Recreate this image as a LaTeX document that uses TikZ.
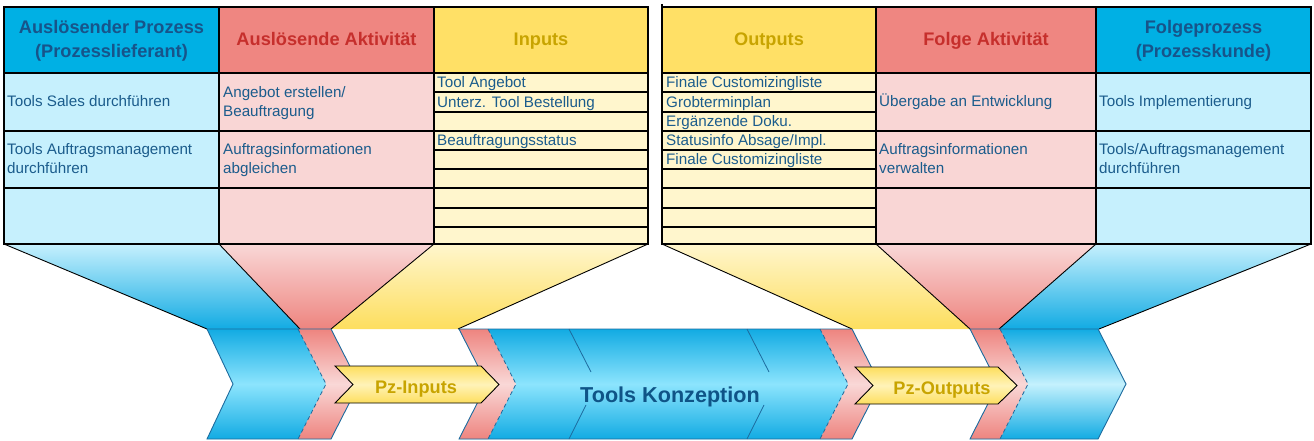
\documentclass[tikz,border=0pt]{standalone}
\usepackage{fontspec}
\setmainfont{Liberation Sans}
\definecolor{hBlue}{HTML}{00B0E4}
\definecolor{hPink}{HTML}{EF8681}
\definecolor{hYel}{HTML}{FFE066}
\definecolor{bBlue}{HTML}{C6F0FD}
\definecolor{bPink}{HTML}{F9D6D5}
\definecolor{bYel}{HTML}{FFF6CD}
\definecolor{tBlue}{HTML}{1B5C8C}
\definecolor{tHBlue}{HTML}{17548A}
\definecolor{tRed}{HTML}{C62F2C}
\definecolor{tGold}{HTML}{C8A400}
\definecolor{cDark}{HTML}{12ABE3}
\definecolor{cLight}{HTML}{8CE4FD}
\definecolor{cLighter}{HTML}{C4F1FD}
\definecolor{pDark}{HTML}{EE847F}
\definecolor{pLight}{HTML}{F9D8D7}
\definecolor{yDark}{HTML}{FDDE5E}
\definecolor{yLight}{HTML}{FFF3B8}
\definecolor{cLine}{HTML}{1D6B9E}
\definecolor{kText}{HTML}{0F5487}
\tikzset{
  hdr/.style={font=\fontsize{18.2}{23.5}\selectfont\bfseries, align=center, inner sep=0pt},
  bodytxt/.style={font=\fontsize{15.2}{19}\selectfont, text=tBlue, anchor=west, align=left, inner sep=0pt},
  gridline/.style={line width=2pt, black},
  fedge/.style={line width=0.9pt, black},
  chevline/.style={draw=cLine, line width=0.9pt, line join=miter},
  sepline/.style={draw=cLine, dashed, dash pattern=on 4pt off 3pt, line width=0.8pt},
  divline/.style={draw=cLine, line width=0.8pt},
  bandfill/.style={top color=pDark, bottom color=pDark, middle color=pLight},
  chevfill/.style={top color=cDark, bottom color=cDark, middle color=cLight},
  chevfillR/.style={top color=cDark, bottom color=cDark, middle color=cLighter},
  pzshape/.style={draw=black, line width=0.9pt, top color=yDark, bottom color=yDark, middle color=yLight},
  pztxt/.style={font=\fontsize{18.2}{22}\selectfont\bfseries, text=tGold, anchor=base, inner sep=0pt},
}
\begin{document}
\begin{tikzpicture}[x=1pt,y=-1pt]
\useasboundingbox (0,0) rectangle (1314,441);

% ---------- funnels ----------
\path[top color=bBlue, bottom color=cDark] (4,244) -- (219,244) -- (300,329) -- (207,329) -- cycle;
\path[top color=pLight, bottom color=pDark] (219,244) -- (434,244) -- (331,329) -- (300,329) -- cycle;
\path[top color=bYel, bottom color=yDark] (434,244) -- (648,244) -- (458,329) -- (331,329) -- cycle;
\path[top color=bYel, bottom color=yDark] (662,244) -- (876,244) -- (970,329) -- (852,329) -- cycle;
\path[top color=pLight, bottom color=pDark] (876,244) -- (1096,244) -- (999,329) -- (970,329) -- cycle;
\path[top color=bBlue, bottom color=cDark] (1096,244) -- (1311,244) -- (1099,329) -- (999,329) -- cycle;
\draw[fedge] (4,244) -- (207,329);
\draw[fedge] (219,244) -- (300,329);
\draw[fedge] (434,244) -- (331,329);
\draw[fedge] (648,244) -- (458,329);
\draw[fedge] (662,244) -- (852,329);
\draw[fedge] (876,244) -- (970,329);
\draw[fedge] (1096,244) -- (999,329);
\draw[fedge] (1311,244) -- (1099,329);

% ---------- chevron A ----------
\path[chevfill] (207,329) -- (331,329) -- (359,384) -- (331,439) -- (207,439) -- (233,384) -- cycle;
\path[bandfill] (298,329) -- (331,329) -- (359,384) -- (331,439) -- (298,439) -- (326,384) -- cycle;
\draw[chevline] (207,329) -- (331,329) -- (359,384) -- (331,439) -- (207,439) -- (233,384) -- cycle;
\draw[sepline] (298,329) -- (326,384) -- (298,439);

% ---------- chevron B ----------
\path[chevfill] (459,329) -- (852,329) -- (880,384) -- (852,439) -- (459,439) -- (487,384) -- cycle;
\path[bandfill] (459,329) -- (488,329) -- (516,384) -- (488,439) -- (459,439) -- (487,384) -- cycle;
\path[bandfill] (820,329) -- (852,329) -- (880,384) -- (852,439) -- (820,439) -- (848,384) -- cycle;
\draw[chevline] (459,329) -- (852,329) -- (880,384) -- (852,439) -- (459,439) -- (487,384) -- cycle;
\draw[sepline] (488,329) -- (516,384) -- (488,439);
\draw[sepline] (820,329) -- (848,384) -- (820,439);
\draw[divline] (569,329) -- (591,372);
\draw[divline] (586,405) -- (569,439);
\draw[divline] (747,329) -- (769,372);
\draw[divline] (764,405) -- (747,439);

% ---------- chevron C ----------
\path[chevfillR] (970,329) -- (1098,329) -- (1126,384) -- (1098,439) -- (970,439) -- (998,384) -- cycle;
\path[bandfill] (970,329) -- (1000,329) -- (1028,384) -- (1000,439) -- (970,439) -- (998,384) -- cycle;
\draw[chevline] (970,329) -- (1098,329) -- (1126,384) -- (1098,439) -- (970,439) -- (998,384) -- cycle;
\draw[sepline] (1000,329) -- (1028,384) -- (1000,439);

% ---------- Pz arrows ----------
\path[pzshape] (335,366) -- (481,366) -- (499,384.5) -- (481,403) -- (335,403) -- (353,384.5) -- cycle;
\node[pztxt] (pzin) at (416,393) {Pz-Inputs};
\path[pzshape] (855,367) -- (998,367) -- (1017,385.5) -- (998,404) -- (855,404) -- (873,385.5) -- cycle;
\node[pztxt] (pzout) at (942,394) {Pz-Outputs};
\node[font=\fontsize{21.6}{26}\selectfont\bfseries, text=kText, anchor=base, inner sep=0pt] (konz) at (670,402) {Tools Konzeption};

% ---------- table fills ----------
\fill[hBlue] (4,7) rectangle (219,73);
\fill[hPink] (219,7) rectangle (434,73);
\fill[hYel] (434,7) rectangle (648,73);
\fill[hYel] (662,7) rectangle (876,73);
\fill[hPink] (876,7) rectangle (1096,73);
\fill[hBlue] (1096,7) rectangle (1311,73);
\fill[bBlue] (4,73) rectangle (219,244);
\fill[bPink] (219,73) rectangle (434,244);
\fill[bYel] (434,73) rectangle (648,244);
\fill[bYel] (662,73) rectangle (876,244);
\fill[bPink] (876,73) rectangle (1096,244);
\fill[bBlue] (1096,73) rectangle (1311,244);

% ---------- grid ----------
\draw[gridline] (4,7) rectangle (648,244);
\draw[gridline] (662,7) rectangle (1311,244);
\draw[gridline] (662,4) -- (662,7);
\foreach \xx in {219,434,876,1096} \draw[gridline] (\xx,7) -- (\xx,244);
\foreach \yy in {73,131,188} {
  \draw[gridline] (4,\yy) -- (648,\yy);
  \draw[gridline] (662,\yy) -- (1311,\yy);
}
\foreach \yy in {92,112,150,169,208,227} {
  \draw[gridline] (434,\yy) -- (648,\yy);
  \draw[gridline] (662,\yy) -- (876,\yy);
}

% ---------- headers ----------
\node[hdr, text=tHBlue] (h1) at (111.5,41) {\strut Auslösender Prozess\\\strut(Prozesslieferant)};
\node[hdr, text=tRed, anchor=base] (h2) at (326.5,45.5) {Auslösende Aktivität};
\node[hdr, text=tGold, anchor=base] (h3) at (541,45.5) {Inputs};
\node[hdr, text=tGold, anchor=base] (h4) at (769,45.5) {Outputs};
\node[hdr, text=tRed, anchor=base] (h5) at (986,45.5) {Folge Aktivität};
\node[hdr, text=tHBlue] (h6) at (1203.5,41) {\strut Folgeprozess\\\strut(Prozesskunde)};

% ---------- body ----------
\node[bodytxt] (a1) at (7,103) {\strut Tools Sales durchführen};
\node[bodytxt] (a2) at (7,160) {\strut Tools Auftragsmanagement\\\strut durchführen};
\node[bodytxt] (b1) at (223,103) {\strut Angebot erstellen/\\\strut Beauftragung};
\node[bodytxt] (b2) at (223,160) {\strut Auftragsinformationen\\\strut abgleichen};
\node[bodytxt] (i1) at (437,84) {\strut Tool Angebot};
\node[bodytxt] (i2) at (437,103.5) {\strut Unterz. Tool Bestellung};
\node[bodytxt] (i3) at (437,142) {\strut Beauftragungsstatus};
\node[bodytxt] (o1) at (666,84) {\strut Finale Customizingliste};
\node[bodytxt] (o2) at (666,103.5) {\strut Grobterminplan};
\node[bodytxt] (o3) at (666,123) {\strut Ergänzende Doku.};
\node[bodytxt] (o4) at (666,142) {\strut Statusinfo Absage/Impl.};
\node[bodytxt] (o5) at (666,161) {\strut Finale Customizingliste};
\node[bodytxt] (e1) at (879,103) {\strut Übergabe an Entwicklung};
\node[bodytxt] (e2) at (879,160) {\strut Auftragsinformationen\\\strut verwalten};
\node[bodytxt] (f1) at (1099,103) {\strut Tools Implementierung};
\node[bodytxt] (f2) at (1099,160) {\strut Tools/Auftragsmanagement\\\strut durchführen};
\end{tikzpicture}
\end{document}
